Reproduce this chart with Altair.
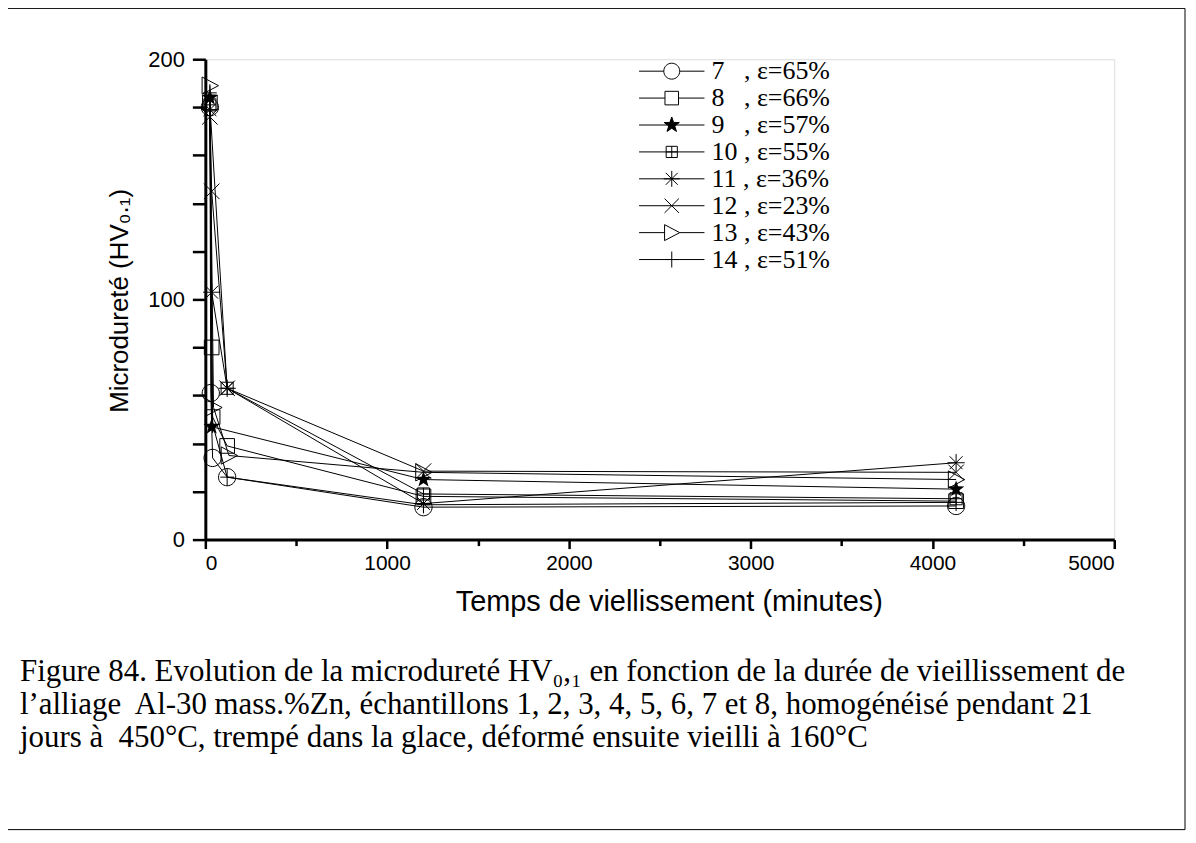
import altair as alt
import pandas as pd

# ---- data ----
labels = ["7\u00a0\u00a0\u00a0, ε=65%", "8\u00a0\u00a0\u00a0, ε=66%", "9\u00a0\u00a0\u00a0, ε=57%",
          "10 , ε=55%", "11 , ε=36%", "12 , ε=23%", "13 , ε=43%", "14 , ε=51%"]

t7 = [25, 30, 40, 120, 1200, 4130]
h7 = [180, 61, 34, 26, 13.5, 14]
t8 = [25, 35, 40, 120, 1200, 4130]
h8 = [182, 80, 51, 39, 18, 16]
t9 = [25, 35, 1200, 4130]
h9 = [184, 47, 25, 21]
t10 = [25, 120, 1200, 4130]
h10 = [181, 63, 19, 17]
t11 = [25, 35, 120, 1200, 4130]
h11 = [179, 103, 63, 15, 32]
t12 = [25, 35, 120, 1200, 4130]
h12 = [176, 145, 63, 28.5, 28]
t13 = [25, 45, 130, 1200, 4130]
h13 = [189, 55, 35, 28, 25]
t14 = [25, 40, 120, 1200, 4130]
h14 = [186, 48, 26, 14.5, 15.5]

times = [t7, t8, t9, t10, t11, t12, t13, t14]
hards = [h7, h8, h9, h10, h11, h12, h13, h14]

x_ticks = list(range(0, 5001, 500))
y_ticks = list(range(0, 201, 5))

caption = [
    "Figure 84. Evolution de la microdureté HV₀,₁ en fonction de la durée de vieillissement de",
    "l’alliage\u00a0 Al-30 mass.%Zn, échantillons 1, 2, 3, 4, 5, 6, 7 et 8, homogénéisé pendant 21",
    "jours à\u00a0 450°C, trempé dans la glace, déformé ensuite vieilli à 160°C",
]

# ---- tables ----
rows = []
for lab, ts, hs in zip(labels, times, hards):
    for t, h in zip(ts, hs):
        rows.append({"serie": lab, "t": t, "hv": h})
df = pd.DataFrame(rows)

STAR = "M0,-1L0.235,-0.324L0.951,-0.309L0.380,0.124L0.588,0.809L0,0.4L-0.588,0.809L-0.380,0.124L-0.951,-0.309L-0.235,-0.324Z"
CIRC = "M1,0A1,1,0,1,1,-1,0A1,1,0,1,1,1,0Z"
SQR = "M-0.85,-0.85H0.85V0.85H-0.85Z"
BOXX = "M-0.7,-0.7H0.7V0.7H-0.7ZM0,-0.7V0.7M-0.7,0H0.7"
AST = "M-1,0H1M0,-1V1M-0.75,-0.75L0.75,0.75M-0.75,0.75L0.75,-0.75"
XX = "M-0.9,-0.9L0.9,0.9M-0.9,0.9L0.9,-0.9"
TRI = "M-0.9,-1L1,0L-0.9,1Z"
PLUS = "M-0.8,0H0.8M0,-1V1"
EMPTY = "M0,0"
marker_paths = [CIRC, SQR, STAR, BOXX, AST, XX, TRI, PLUS]

L = "4.1"
legend_paths = [
    f"M-{L},0H-1M1,0H{L}" + CIRC,
    f"M-{L},0H-0.85M0.85,0H{L}" + SQR,
    f"M-{L},0H{L}" + STAR,
    f"M-{L},0H{L}" + BOXX,
    f"M-{L},0H{L}" + AST,
    f"M-{L},0H{L}" + XX,
    f"M-{L},0H-0.9M1,0H{L}" + TRI,
    f"M-{L},0H{L}" + PLUS,
]
legend_fill_paths = [EMPTY, EMPTY, STAR, EMPTY, EMPTY, EMPTY, EMPTY, EMPTY]

x_enc = alt.X(
    "t:Q",
    scale=alt.Scale(domain=[0, 5000], nice=False),
    axis=alt.Axis(
        values=x_ticks, format="d",
        labelExpr="datum.value % 1000 === 0 ? datum.label : ''",
        tickSize={"condition": {"test": "datum.value % 1000 === 0", "value": 9}, "value": 6},
        tickWidth=2.5, tickColor="black", domainColor="black", domainWidth=3,
        labelFont="Liberation Sans", labelFontSize=21, labelColor="black", labelPadding=4,
        title="Temps de viellissement (minutes)", titleFont="Liberation Sans",
        titleFontSize=29, titleFontWeight="normal", titleColor="black",
        titleX=465, titleY=62, titleBaseline="middle", grid=False,
    ),
)
y_enc = alt.Y(
    "hv:Q",
    scale=alt.Scale(domain=[0, 200], nice=False),
    axis=alt.Axis(
        values=y_ticks, format="d",
        labelExpr="datum.value % 100 === 0 ? datum.label : ''",
        tickSize={"condition": {"test": "datum.value % 10 === 0", "value": 13}, "value": 8},
        tickWidth=2.5, tickColor="black", domainColor="black", domainWidth=3,
        labelFont="Liberation Sans", labelFontSize=22, labelColor="black", labelPadding=8,
        title="Microdureté (HV₀.₁)", titleFont="Liberation Sans",
        titleFontSize=26, titleFontWeight="normal", titleColor="black",
        titleX=-86, titleY=242, titleBaseline="middle", grid=False,
    ),
)

base = alt.Chart(df)

lines = base.mark_line(color="black", strokeWidth=1).encode(
    x=x_enc, y=y_enc, detail="serie:N", order="t:Q"
)

pts = base.transform_filter(alt.datum.serie != labels[2]).mark_point(
    filled=False, color="black", strokeWidth=1, size=300, opacity=1
).encode(
    x="t:Q", y="hv:Q",
    shape=alt.Shape("serie:N", scale=alt.Scale(domain=labels, range=marker_paths), legend=None),
)

stars = base.transform_filter(alt.datum.serie == labels[2]).mark_point(
    filled=True, color="black", size=300, opacity=1
).encode(
    x="t:Q", y="hv:Q",
    shape=alt.value(STAR),
)

common = dict(
    title=None, orient="none", legendX=455, legendY=-1,
    labelFont="Liberation Serif", labelFontSize=26,
    labelOffset=27, symbolSize=256, symbolOpacity=1, rowPadding=1, labelLimit=400,
)
legA = alt.Legend(labelColor="black", symbolStrokeWidth=1, symbolStrokeColor="black",
                  symbolFillColor="transparent", **common)
legB = alt.Legend(labelColor="transparent", labelOpacity=0, symbolStrokeWidth=0,
                  symbolStrokeColor="transparent", symbolFillColor="black", **common)

legend_a = base.mark_point(opacity=0, filled=False, color="black", strokeWidth=1).encode(
    x="t:Q", y="hv:Q",
    shape=alt.Shape("serie:N", scale=alt.Scale(domain=labels, range=legend_paths), legend=legA),
)
legend_b = base.mark_point(opacity=0, filled=True, color="black").encode(
    x="t:Q", y="hv:Q",
    shape=alt.Shape("serie:N", scale=alt.Scale(domain=labels, range=legend_fill_paths), legend=legB),
)

frame = alt.Chart(pd.DataFrame({"k": [0]})).mark_rect(
    filled=False, stroke="black", strokeWidth=1
).encode(
    x=alt.value(-199), x2=alt.value(983), y=alt.value(-51), y2=alt.value(773)
)

cap = alt.Chart(pd.DataFrame({"k": [0]})).mark_text(
    align="left", baseline="alphabetic", lineBreak="\n", lineHeight=33,
    font="Liberation Serif", fontSize=31, color="black",
).encode(
    x=alt.value(-186), y=alt.value(624), text=alt.value("\n".join(caption))
)

chart = alt.layer(frame, lines, pts, stars, legend_a, legend_b, cap).resolve_scale(
    shape="independent"
).properties(
    width=912, height=482,
    autosize=alt.AutoSizeParams(type="none"),
    padding={"left": 198, "top": 50, "right": 74, "bottom": 292},
).configure_view(stroke=None).configure(background="white")

chart.save("out.html", embed_options={"renderer": "svg", "actions": False})
